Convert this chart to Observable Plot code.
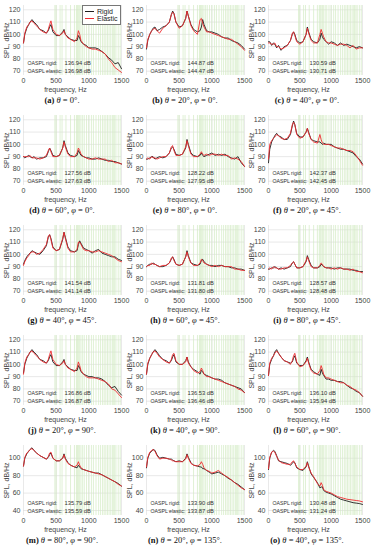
<!DOCTYPE html>
<html><head><meta charset="utf-8">
<script src="https://cdn.jsdelivr.net/npm/d3@7"></script>
<script src="https://cdn.jsdelivr.net/npm/@observablehq/plot@0.6"></script>
<style>
body{margin:0;background:#fff;}
#wrap{position:relative;width:373px;height:550px;overflow:hidden;background:#fff;}
.panel{position:absolute;width:124px;height:110px;}
.panel svg{display:block;}
.cap{position:absolute;top:94px;left:0;width:124px;line-height:12px;text-align:center;font-family:"Liberation Serif","DejaVu Serif",serif;font-size:8.5px;color:#111;white-space:nowrap;}
.legend{position:absolute;left:82px;top:5px;width:37px;height:18px;border:0.8px solid #777;background:#fff;font-family:"Liberation Sans",Arial,sans-serif;font-size:7px;color:#222;}
.legend div{position:absolute;left:2px;height:8px;line-height:8px;}
.legend span{display:inline-block;width:9px;height:0;vertical-align:middle;margin-right:3px;}
</style></head><body><div id="wrap"></div><script>
const freq = [0,20,50,80,100,130,160,200,250,300,350,380,400,420,450,500,550,600,620,640,680,720,780,820,840,860,880,920,960,1000,1050,1100,1150,1200,1250,1300,1350,1400,1450,1500];
const modeFreqs = [480,500,560,590,650,720,780,810,825,840,860,880,905,930,965,1000,1040,1070,1110,1150,1180,1210,1235,1260,1285,1310,1335,1360,1375,1395,1415,1450,1480];
const letters = ["a","b","c","d","e","f","g","h","i","j","k","l","m","n","o"];
const captions = ["θ = 0°.","θ = 20°, φ = 0°.","θ = 40°, φ = 0°.","θ = 60°, φ = 0°.","θ = 80°, φ = 0°.","θ = 20°, φ = 45°.","θ = 40°, φ = 45°.","θ = 60°, φ = 45°.","θ = 80°, φ = 45°.","θ = 20°, φ = 90°.","θ = 40°, φ = 90°.","θ = 60°, φ = 90°.","θ = 80°, φ = 90°.","θ = 20°, φ = 135°.","θ = 40°, φ = 135°."];
const oasplRigid = ["136.94","144.87","130.59","127.56","128.22","142.37","141.54","131.81","128.57","136.86","136.53","136.10","135.79","133.90","130.48"];
const oasplElastic = ["136.98","144.47","130.71","127.63","127.95","142.45","141.14","131.80","128.48","136.87","136.46","135.94","135.59","133.87","131.24"];
const yTicksHigh = [70,80,90,100,110,120];
const yTicksLow = [40,60,80,100];
const xTicks = [0,500,1000,1500];

const a_r=[93,100,105,108,110,112,110,108,104,103,101,103,106,108,102,99,99,102,104,100,98,96,95,95,99,97,94,92,91,89,89,89,88,86,84,81,79,76,77,72];
const a_e=[93,101,106,108,110,111,109,107,104,102,101,104,108,111,104,100,99,101,103,100,97,96,94,97,103,100,95,92,90,89,88,88,87,86,84,80,77,73,71,69];
const b_r=[88,95,100,103,105,106,103,104,106,107,110,116,119,117,110,106,107,113,119,115,108,104,102,103,106,112,108,103,102,102,101,100,98,97,97,95,94,93,91,88];
const b_e=[89,96,100,103,104,105,103,101,105,107,110,116,118,117,110,105,107,113,119,115,107,103,100,112,113,109,106,102,102,101,100,99,98,97,96,96,94,92,90,87];
const c_r=[94,94,91,93,92,89,91,87,90,91,95,100,102,100,95,93,94,100,106,102,96,94,93,96,101,98,96,94,92,94,93,91,93,91,92,91,90,89,90,89];
const c_e=[93,93,92,92,93,90,90,88,89,91,95,101,102,99,94,92,94,100,105,101,95,93,93,100,104,101,98,94,93,93,92,91,92,92,91,89,91,88,89,89];
const d_r=[90,89,90,91,90,89,90,88,89,89,90,94,97,95,91,90,91,97,103,99,93,91,90,91,95,93,91,90,89,89,88,88,89,88,87,87,86,86,85,84];
const d_e=[90,90,90,90,91,89,89,89,88,89,91,95,97,94,90,90,91,97,102,98,92,90,90,93,97,95,92,90,89,88,88,89,88,88,88,86,87,85,85,84];
const e_r=[88,88,89,90,90,88,89,90,89,90,93,97,98,96,92,91,92,97,104,100,93,91,90,91,93,91,90,91,92,93,91,92,91,92,90,89,88,90,85,82];
const e_e=[88,89,88,90,89,89,88,89,90,90,93,98,99,95,91,91,92,98,103,99,92,90,90,92,94,92,91,92,91,92,92,91,92,91,91,88,89,88,86,82];
const f_r=[85,96,102,105,107,109,107,106,104,104,108,115,119,116,109,106,106,110,113,110,104,103,102,102,101,100,101,100,100,100,98,97,96,96,95,94,93,90,88,84];
const f_e=[88,100,103,105,106,108,107,105,104,105,109,116,118,116,108,105,106,110,113,109,104,102,101,108,104,101,100,100,100,99,98,97,97,96,95,95,94,91,87,83];
const g_r=[92,95,98,100,101,103,102,101,100,103,107,114,116,113,106,103,104,112,118,114,106,103,102,103,108,111,109,105,104,103,101,103,104,101,100,99,98,98,96,95];
const g_e=[91,94,97,99,101,102,102,100,101,104,108,115,116,112,105,103,104,113,118,113,105,102,102,104,110,110,108,104,103,103,102,102,103,102,101,100,99,97,95,94];
const h_r=[90,91,92,92,93,92,91,90,90,91,93,96,98,96,92,91,92,98,103,99,93,92,91,92,95,96,94,92,91,91,90,91,91,90,90,89,89,88,88,87];
const h_e=[90,91,91,93,92,92,91,90,91,91,93,97,98,95,92,91,92,98,102,98,93,91,91,93,96,95,93,92,91,90,91,90,91,90,90,90,88,88,87,87];
const i_r=[88,88,89,89,90,89,88,89,88,89,90,93,94,92,89,89,90,94,99,96,91,89,89,90,92,91,90,89,89,89,88,89,89,88,88,88,87,87,86,86];
const i_e=[88,89,88,90,89,89,88,88,89,89,91,93,94,92,89,89,90,95,98,95,90,89,89,91,93,92,90,89,89,88,89,88,89,88,88,87,88,86,86,85];
const j_r=[93,100,105,108,110,112,110,108,104,103,101,103,106,108,102,99,99,102,104,100,98,96,95,95,99,97,94,92,91,90,90,89,89,88,86,83,81,82,78,75];
const j_e=[92,101,106,108,110,111,109,107,104,102,101,104,108,111,104,100,99,101,103,100,97,96,94,97,102,99,95,92,90,89,89,89,88,87,86,84,80,79,76,73];
const k_r=[92,100,105,108,110,112,110,107,104,103,101,103,106,108,102,100,100,103,106,102,98,96,94,92,95,94,92,91,90,89,88,88,87,85,84,83,82,81,80,77];
const k_e=[92,101,105,108,110,111,109,106,104,102,101,104,108,109,103,100,100,102,106,101,98,95,93,94,97,95,92,90,90,89,88,87,86,85,84,83,82,80,79,77];
const l_r=[91,100,104,107,110,112,109,106,103,102,101,102,105,107,101,99,99,103,106,102,96,94,92,91,96,93,91,88,88,87,87,86,86,85,83,81,80,78,77,74];
const l_e=[91,101,105,107,109,111,109,106,103,102,100,103,107,109,102,98,99,102,105,101,95,93,92,95,99,96,92,89,89,88,87,86,85,85,83,82,80,79,77,74];
const m_r=[91,100,105,108,110,112,109,106,103,101,99,101,104,106,100,97,97,100,105,100,95,92,90,89,92,90,88,87,86,85,84,83,83,81,79,77,75,73,71,68];
const m_e=[91,101,106,108,110,111,109,106,103,101,99,102,106,107,100,97,97,100,104,99,94,92,90,92,96,92,89,87,86,85,84,83,82,81,79,77,75,73,70,68];
const n_r=[89,100,106,108,110,109,104,100,101,100,99,99,98,97,96,97,96,100,105,101,95,92,91,90,90,88,88,86,84,82,83,84,82,80,77,75,72,70,67,64];
const n_e=[90,101,107,109,110,108,103,99,100,100,99,98,97,97,96,96,96,99,104,100,94,92,91,93,96,93,89,86,85,83,84,86,83,80,78,75,72,69,66,64];
const o_r=[87,100,107,109,108,103,97,96,95,94,92,94,96,95,89,87,86,90,96,91,82,78,72,66,67,67,63,61,60,59,57,55,53,52,51,50,49,48.5,48,47];
const o_e=[88,101,107,108,107,102,98,95,94,93,93,96,97,94,90,87,87,91,95,90,83,79,71,68,72,69,64,62,61,60,58,56,55,54,53,52.5,52,51.5,51,50];

const rigid=[a_r,b_r,c_r,d_r,e_r,f_r,g_r,h_r,i_r,j_r,k_r,l_r,m_r,n_r,o_r];
const elastic=[a_e,b_e,c_e,d_e,e_e,f_e,g_e,h_e,i_e,j_e,k_e,l_e,m_e,n_e,o_e];

const colLeft=[0,123,245];
const wrap=document.getElementById("wrap");
const ident=d=>d;
const tOpt=(dx,dy,size)=>({text:ident,frameAnchor:"bottom-left",dx,dy,textAnchor:"start",lineAnchor:"middle",fontSize:size,fill:"#333"});
for(let i=0;i<15;i++){
  const col=i%3,row=Math.floor(i/3);
  const low=i>=12;
  const yTicks=low?yTicksLow:yTicksHigh;
  const yDomain=low?[34.3,114.6]:[66.5,123.5];
  const rows=freq.map((f,j)=>({f,r:rigid[i][j],e:elastic[i][j]}));
  const svg=Plot.plot({
    width:124,height:93,marginLeft:23,marginRight:col===2?7:3,marginTop:5,marginBottom:18,
    style:{fontFamily:"Liberation Sans, Arial, sans-serif",fontSize:"7px",color:"#444",background:"transparent",overflow:"visible"},
    x:{domain:[0,1500],ticks:xTicks,tickSize:0,tickPadding:3,tickFormat:d=>String(d),label:null},
    y:{domain:yDomain,ticks:yTicks,tickSize:0,tickPadding:3,tickFormat:d=>String(d),label:null},
    marks:[
      Plot.gridX(xTicks,{stroke:"#dadada",strokeOpacity:1,strokeWidth:0.6}),
      Plot.gridY(yTicks,{stroke:"#dadada",strokeOpacity:1,strokeWidth:0.6}),
      Plot.ruleX(modeFreqs,{stroke:"#d3ebc3",strokeWidth:0.7}),
      Plot.line(rows,{x:"f",y:"r",stroke:"#1e1e1e",strokeWidth:0.9}),
      Plot.line(rows,{x:"f",y:"e",stroke:"#ef2a2f",strokeWidth:0.9}),
      Plot.text(["OASPL rigid:"],tOpt(4,-12,5.2)),
      Plot.text(["OASPL elastic:"],tOpt(4,-4,5.2)),
      Plot.text([oasplRigid[i]+" dB"],tOpt(41,-12,5.8)),
      Plot.text([oasplElastic[i]+" dB"],tOpt(41,-4,5.8)),
      Plot.text(["frequency, Hz"],{text:ident,frameAnchor:"bottom",dx:-7,dy:14,lineAnchor:"middle",textAnchor:"middle",fontSize:7,fill:"#444"}),
      Plot.text(["SPL, dB/Hz"],{text:ident,frameAnchor:"left",dx:-17,rotate:-90,lineAnchor:"middle",textAnchor:"middle",fontSize:7,fill:"#444"})
    ]
  });
  const div=document.createElement("div");
  div.className="panel";
  div.style.left=colLeft[col]+"px";
  div.style.top=(row*110)+"px";
  div.appendChild(svg);
  const cap=document.createElement("div");
  cap.className="cap";
  cap.innerHTML="<b>("+letters[i]+")</b> "+captions[i].replace(/θ/g,"<i>θ</i>").replace(/φ/g,"<i>φ</i>");
  div.appendChild(cap);
  if(i===0){
    const lg=document.createElement("div");
    lg.className="legend";
    lg.innerHTML='<div style="top:1.5px"><span style="border-top:1px solid #1e1e1e"></span>Rigid</div><div style="top:8.5px"><span style="border-top:1px solid #ef2a2f"></span>Elastic</div>';
    div.appendChild(lg);
  }
  wrap.appendChild(div);
}
</script></body></html>
